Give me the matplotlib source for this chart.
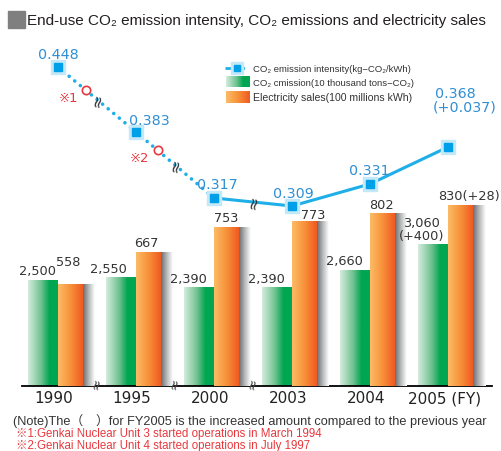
import numpy as np
import matplotlib
matplotlib.use("Agg")
import matplotlib.pyplot as plt
from matplotlib.colors import LinearSegmentedColormap

years = ["1990", "1995", "2000", "2003", "2004", "2005 (FY)"]
co2_emission = [2500, 2550, 2390, 2390, 2660, 3060]
co2_labels = ["2,500", "2,550", "2,390", "2,390", "2,660", "3,060\n(+400)"]
elec_sales = [558, 667, 753, 773, 802, 830]
elec_labels = ["558", "667", "753", "773", "802", "830(+28)"]
intensity = [0.448, 0.383, 0.317, 0.309, 0.331, 0.368]
intensity_labels = ["0.448", "0.383", "0.317", "0.309", "0.331", "0.368"]

W, H = 502, 452
BLUE_TXT = "#2f8fd5"
LINE = "#1eaee8"
RED = "#e8383d"
DARK = "#333333"

green_cm = LinearSegmentedColormap.from_list("g", [(0, "#d4ecdd"), (0.45, "#6cc08e"), (0.72, "#00a651"), (1, "#00a651")])
orange_cm = LinearSegmentedColormap.from_list("o", [(0, "#fdbb66"), (0.5, "#f7923a"), (1, "#f05a22")])
shadow_cm = LinearSegmentedColormap.from_list("s", ["#6b6d6f", "#b9babb", "#ffffff"])
grad = np.linspace(0, 1, 64).reshape(1, -1)

fig = plt.figure(figsize=(W / 100, H / 100), dpi=100)
fig.patch.set_facecolor("white")

# axes geometry in pixels: baseline at y=387, group spacing 78 px
base_px, top_px = 387, 40
rect = [0, (H - base_px) / H, 1, (base_px - top_px) / H]
x = np.arange(len(years))
xlim = (-58 / 78, (W - 58) / 78)
green_w, orange_w, shadow_w = 30 / 78, 25 / 78, 12 / 78
g_base, g_scale = 868, 0.0645
o_base, o_scale = 208, 0.2903
i_base, i_scale = 0.129, 1000

ax = fig.add_axes(rect)
ax2 = ax.twinx()
ax3 = ax.twinx()


def set_limits():
    for a in (ax, ax2, ax3):
        a.set_xlim(*xlim)
    ax.set_ylim(g_base, g_base + (base_px - top_px) / g_scale)
    ax2.set_ylim(o_base, o_base + (base_px - top_px) / o_scale)
    ax3.set_ylim(i_base, i_base + (base_px - top_px) / i_scale)


ax.patch.set_alpha(0)
for a in (ax, ax2, ax3):
    for s in ("top", "left", "right"):
        a.spines[s].set_visible(False)
    a.set_yticks([])
for a in (ax2, ax3):
    a.spines["bottom"].set_visible(False)
set_limits()

ax.spines["bottom"].set_bounds(-36 / 78, (492 - 58) / 78)
ax.spines["bottom"].set_linewidth(1.3)
ax.spines["bottom"].set_zorder(5)
ax.set_xticks(x - 0.05)
ax.set_xticklabels(years, fontsize=11, color="#222222")
ax.tick_params(axis="x", length=0, pad=3)

# green bars
gbars = ax.bar(x - green_w, np.array(co2_emission) - g_base, bottom=g_base, width=green_w, align="edge")
for r in gbars:
    r.set_visible(False)
    ax.imshow(grad, extent=(r.get_x(), r.get_x() + r.get_width(), g_base, g_base + r.get_height()),
              cmap=green_cm, aspect="auto", zorder=2)

# orange bars with shadow
obars = ax2.bar(x, np.array(elec_sales) - o_base, bottom=o_base, width=orange_w, align="edge")
for r in obars:
    r.set_visible(False)
    x1 = r.get_x() + r.get_width()
    ax2.imshow(grad, extent=(r.get_x(), x1, o_base, o_base + r.get_height()),
               cmap=orange_cm, aspect="auto", zorder=2)
    ax2.imshow(grad, extent=(x1, x1 + shadow_w, o_base, o_base + r.get_height()),
               cmap=shadow_cm, aspect="auto", zorder=1)

# bar labels (offsets in pixels), drawn on the top axes
g_off = [(-6, 4), (-13, 3), (-11, 3), (-11, 3), (-11, 3), (-11, 3)]
for i, (v, t) in enumerate(zip(co2_emission, co2_labels)):
    ax3.annotate(t, (x[i] - green_w / 2, v), xycoords=ax.transData, xytext=g_off[i],
                 textcoords="offset pixels", ha="center", va="bottom", fontsize=9.3,
                 color=DARK, linespacing=1.0, zorder=6)
o_off = [(-2, 16), (-2, 4), (0, 4), (9, 1), (-1, 3), (9, 3)]
for i, (v, t) in enumerate(zip(elec_sales, elec_labels)):
    ax3.annotate(t, (x[i] + orange_w / 2, v), xycoords=ax2.transData, xytext=o_off[i],
                 textcoords="offset pixels", ha="center", va="bottom", fontsize=9.3,
                 color=DARK, zorder=6)

# x-axis break marks
for i in range(3):
    ax3.annotate("≈", (x[i] + 0.5, g_base), xycoords=ax.transData, xytext=(0, 3),
                 textcoords="offset pixels", ha="center", va="center", rotation=78,
                 fontsize=10, color="#444444", zorder=6)

# intensity line
ax3.plot(x[:3], intensity[:3], color=LINE, lw=2.6, ls=(0, (0.01, 2.0)), dash_capstyle="round", zorder=3)
ax3.plot(x[2:], intensity[2:], color=LINE, lw=2.2, zorder=3)
ax3.plot(x, intensity, ls="none", marker="s", ms=10, color="#c3e8f8", zorder=4)
ax3.plot(x, intensity, ls="none", marker="s", ms=5.2, color="#00a0e9", zorder=5)
for i in range(3):
    ax3.annotate("≈", (x[i] + 0.5, (intensity[i] + intensity[i + 1]) / 2), ha="center", va="center",
                 rotation=78, fontsize=12, color="#333333", zorder=6)

li_off = [(0, 13), (13, 12), (3, 14), (1, 13), (-1, 14), (7, 54)]
for i, t in enumerate(intensity_labels):
    ax3.annotate(t, (x[i], intensity[i]), xytext=li_off[i], textcoords="offset pixels",
                 ha="center", va="center", fontsize=10.3, color=BLUE_TXT, zorder=6)
ax3.annotate("(+0.037)", (x[5], intensity[5]), xytext=(17, 40), textcoords="offset pixels",
             ha="center", va="center", fontsize=10.3, color=BLUE_TXT, zorder=6)

# nuclear unit start markers
for k, (seg, frac) in enumerate([(0, 0.36), (1, 0.28)]):
    px = x[seg] + frac
    py = intensity[seg] + frac * (intensity[seg + 1] - intensity[seg])
    ax3.plot(px, py, marker="o", ms=6, mfc="white", mec=RED, mew=1.2, zorder=6)
    ax3.annotate("※%d" % (k + 1), (px, py), xytext=(-18, -7), textcoords="offset pixels",
                 ha="center", va="center", fontsize=9.5, color=RED,
                 family=["DejaVu Sans", "Noto Sans CJK JP"], zorder=6)
set_limits()

# overlay for title, legend and notes (pixel coordinates)
ov = fig.add_axes([0, 0, 1, 1])
ov.axis("off")
ov.add_patch(plt.Rectangle((8, 12), 17, 17, color="#7f7f7f"))
ov.text(27, 21, "End-use CO₂ emission intensity, CO₂ emissions and electricity sales",
        fontsize=11, va="center", ha="left", color="#231f20",
        family=["Liberation Sans", "DejaVu Sans"])

leg_font = ["Liberation Sans", "DejaVu Sans"]
ov.plot([225, 250], [69, 69], color=LINE, lw=2, ls=(0, (2.5, 2)))
ov.plot([237.5], [69], marker="s", ms=9, color="#c3e8f8")
ov.plot([237.5], [69], marker="s", ms=4.5, color="#00a0e9")
ov.imshow(grad, extent=(226, 250, 88, 77), cmap=green_cm, aspect="auto")
ov.imshow(grad, extent=(226, 250, 104, 92), cmap=orange_cm, aspect="auto")
ov.text(253, 69, "CO₂ emission intensity(kg−CO₂/kWh)", fontsize=6.8, va="center", color=DARK, family=leg_font)
ov.text(253, 83, "CO₂ cmission(10 thousand tons−CO₂)", fontsize=6.8, va="center", color=DARK, family=leg_font)
ov.text(253, 98, "Electricity sales(100 millions kWh)", fontsize=7.6, va="center", color=DARK, family=leg_font)
ov.set_xlim(0, W)
ov.set_ylim(H, 0)

note_font = ["Liberation Sans", "Noto Sans CJK JP"]
ov.text(13, 421, "(Note)The（　）for FY2005 is the increased amount compared to the previous year",
        fontsize=9.2, va="center", color=DARK, family=note_font)
ov.text(16, 434, "※1:Genkai Nuclear Unit 3 started operations in March 1994",
        fontsize=8.3, va="center", color=RED, family=note_font)
ov.text(16, 446, "※2:Genkai Nuclear Unit 4 started operations in July 1997",
        fontsize=8.3, va="center", color=RED, family=note_font)

fig.savefig("out.png", dpi=100, facecolor="white")
